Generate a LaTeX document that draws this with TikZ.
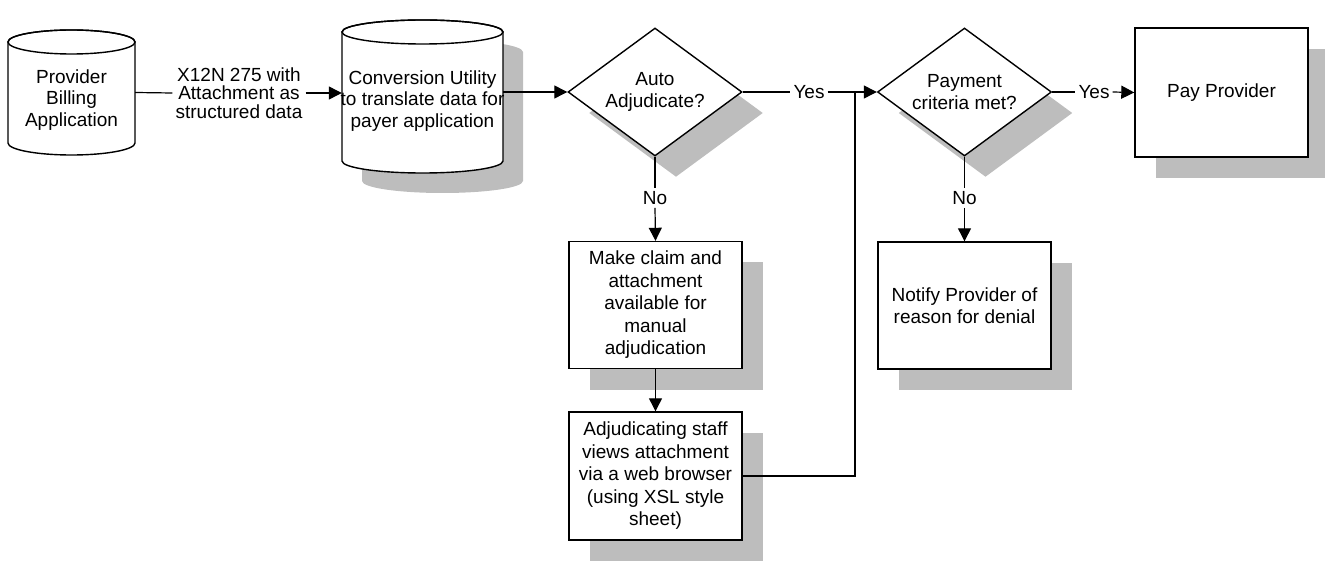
\documentclass[tikz,border=0pt]{standalone}
\usepackage{fontspec}
\setmainfont{Liberation Sans}
\usetikzlibrary{arrows.meta,shapes.geometric,shadows}
\definecolor{shd}{gray}{0.74}
\tikzset{
  txt/.style={font=\fontsize{19}{21.5}\selectfont, align=center, inner sep=3pt},
  conn/.style={line width=1.2pt, draw=black},
  arr/.style={conn, -{Triangle[length=13pt,width=13pt]}},
  shad/.style={drop shadow={shadow xshift=21pt, shadow yshift=-21pt, fill=shd, opacity=1}},
  procbox/.style={draw, line width=1.4pt, fill=white, shad, minimum width=173pt, minimum height=127pt,
    inner sep=2pt, align=center, font=\fontsize{19}{22.5}\selectfont},
  decide/.style={diamond, draw, line width=1.4pt, fill=white, shad, aspect=1.36, inner sep=0pt,
    minimum width=174pt, minimum height=128pt, align=center, font=\fontsize{19}{21.5}\selectfont},
  ghost/.style={inner sep=0pt, draw=none}
}
\begin{document}
\begin{tikzpicture}[x=1pt,y=-1pt]
\useasboundingbox (0,0) rectangle (1325,561);
% --- Provider Billing cylinder
\path[draw, line width=1.4pt, fill=white] (8,42) -- (8,143)
   arc[start angle=180, end angle=0, x radius=63.5, y radius=12] -- (135,42)
   arc[start angle=0, end angle=-180, x radius=63.5, y radius=12] -- cycle;
\draw[line width=1.4pt] (71.5,42) ellipse[x radius=63.5, y radius=12];
\node[ghost, minimum width=127pt, minimum height=125pt] (pba) at (71.5,92.5) {};
\node[txt] (pbat) at (71.5,100) {Provider\\Billing\\Application};
% --- Conversion cylinder (shadow then body)
\fill[shd] (362,52) -- (362,181)
   arc[start angle=180, end angle=0, x radius=80.5, y radius=12] -- (523,52)
   arc[start angle=0, end angle=-180, x radius=80.5, y radius=12] -- cycle;
\path[draw, line width=1.4pt, fill=white] (342,32) -- (342,161)
   arc[start angle=180, end angle=0, x radius=80.5, y radius=12] -- (503,32)
   arc[start angle=0, end angle=-180, x radius=80.5, y radius=12] -- cycle;
\draw[line width=1.4pt] (422.5,32) ellipse[x radius=80.5, y radius=12];
\node[ghost, minimum width=161pt, minimum height=140pt] (cu) at (422.5,92) {};
\node[txt] (cut) at (422.5,101) {Conversion Utility\\to translate data for\\payer application};
% --- label on first connector
\node[txt, font=\fontsize{19}{18.5}\selectfont] (x12) at (239,93) {X12N 275 with\\Attachment as\\structured data};
% --- decisions
\node[decide] (aa) at (655,92) {Auto\\Adjudicate?};
\node[decide] (pc) at (964.5,92) {Payment\\criteria met?};
% --- boxes
\node[procbox] (mc) at (655.5,305) {Make claim and\\attachment\\available for\\manual\\adjudication};
\node[procbox, minimum height=128pt] (adj) at (655.5,476) {Adjudicating staff\\views attachment\\via a web browser\\(using XSL style\\sheet)};
\node[procbox] (nt) at (964.5,305.5) {Notify Provider of\\reason for denial};
\node[procbox, minimum height=129pt] (pp) at (1221.5,92.5) {Pay Provider};
% --- labels
\node[txt] (y1) at (809,92) {Yes};
\node[txt] (y2) at (1094,92) {Yes};
\node[txt] (n1) at (655,198) {No};
\node[txt] (n2) at (964.5,198) {No};
\coordinate (m) at (855,92);
% --- connectors
\draw[conn] (pba.east) -- (x12.west);
\draw[arr] (x12.east) -- (x12.east -| cu.west);
\draw[arr] (cu.east) -- (aa.west);
\draw[conn] (aa.east) -- (y1.west);
\draw[arr] (y1.east) -- (pc.west);
\draw[conn] (aa.south) -- (n1.north);
\draw[arr] (n1.south) -- (mc.north);
\draw[arr] (mc.south) -- (adj.north);
\draw[conn] (adj.east) -| (m);
\draw[conn] (pc.east) -- (y2.west);
\draw[arr] (y2.east) -- (pp.west);
\draw[conn] (pc.south) -- (n2.north);
\draw[arr] (n2.south) -- (nt.north);
\end{tikzpicture}
\end{document}
